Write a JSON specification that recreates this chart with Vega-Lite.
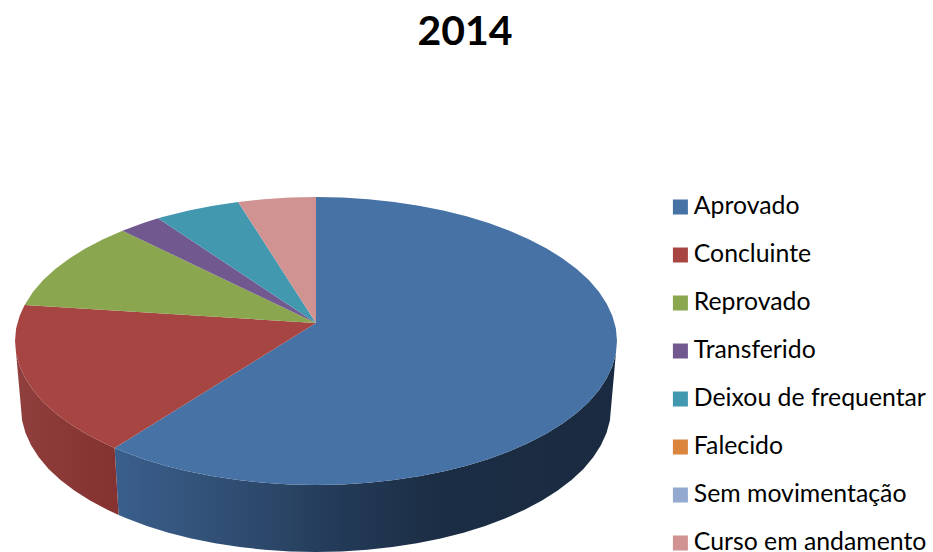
{"$schema":"https://vega.github.io/schema/vega-lite/v6.json","width":933,"height":552,"padding":0,"autosize":{"type":"none"},"background":"white","view":{"stroke":null},
"encoding":{"x":{"field":"x","type":"quantitative","scale":{"domain":[0,933],"nice":false,"zero":false},"axis":null},"y":{"field":"y","type":"quantitative","scale":{"domain":[0,552],"reverse":true,"nice":false,"zero":false},"axis":null},"order":{"field":"ordem","type":"quantitative"}},
"layer":[
{"data":{"values":[{"titulo":"2014","ordem":1,"x":465,"y":45}]},"mark":{"type":"text","font":"Lato","fontSize":41,"fontWeight":"bold","color":"#000000","align":"center","baseline":"alphabetic"},"encoding":{"text":{"field":"titulo","type":"nominal"}}},
{"data":{"values":[
{"ordem":1,"x":617,"y":341},{"ordem":2,"x":615.9,"y":353.6},{"ordem":3,"x":612.4,"y":366},{"ordem":4,"x":606.7,"y":378.3},{"ordem":5,"x":598.9,"y":390.2},{"ordem":6,"x":588.8,"y":401.9},{"ordem":7,"x":576.7,"y":413},{"ordem":8,"x":562.6,"y":423.6},{"ordem":9,"x":546.6,"y":433.6},{"ordem":10,"x":528.8,"y":442.8},{"ordem":11,"x":509.5,"y":451.3},{"ordem":12,"x":488.7,"y":459},{"ordem":13,"x":466.5,"y":465.7},{"ordem":14,"x":443.2,"y":471.5},{"ordem":15,"x":418.9,"y":476.3},{"ordem":16,"x":393.9,"y":480.1},{"ordem":17,"x":368.3,"y":482.8},{"ordem":18,"x":342.2,"y":484.5},{"ordem":19,"x":316,"y":485},{"ordem":20,"x":289.8,"y":484.5},{"ordem":21,"x":263.7,"y":482.8},{"ordem":22,"x":238.1,"y":480.1},{"ordem":23,"x":213.1,"y":476.3},{"ordem":24,"x":188.8,"y":471.5},{"ordem":25,"x":165.5,"y":465.7},{"ordem":26,"x":143.3,"y":459},{"ordem":27,"x":122.5,"y":451.3},{"ordem":28,"x":114.6,"y":448},
{"ordem":29,"x":118.6,"y":515},{"ordem":30,"x":126.4,"y":518.3},{"ordem":31,"x":146.8,"y":526},{"ordem":32,"x":168.5,"y":532.7},{"ordem":33,"x":191.3,"y":538.5},{"ordem":34,"x":215.1,"y":543.3},{"ordem":35,"x":239.7,"y":547.1},{"ordem":36,"x":264.8,"y":549.8},{"ordem":37,"x":290.3,"y":551.5},{"ordem":38,"x":316,"y":552},{"ordem":39,"x":341.7,"y":551.5},{"ordem":40,"x":367.2,"y":549.8},{"ordem":41,"x":392.3,"y":547.1},{"ordem":42,"x":416.9,"y":543.3},{"ordem":43,"x":440.7,"y":538.5},{"ordem":44,"x":463.5,"y":532.7},{"ordem":45,"x":485.2,"y":526},{"ordem":46,"x":505.6,"y":518.3},{"ordem":47,"x":524.6,"y":509.8},{"ordem":48,"x":542,"y":500.6},{"ordem":49,"x":557.7,"y":490.6},{"ordem":50,"x":571.5,"y":480},{"ordem":51,"x":583.4,"y":468.9},{"ordem":52,"x":593.2,"y":457.2},{"ordem":53,"x":600.9,"y":445.3},{"ordem":54,"x":606.5,"y":433},{"ordem":55,"x":609.9,"y":420.6},{"ordem":56,"x":611,"y":408},{"ordem":57,"x":617,"y":341}]},
"mark":{"type":"line","filled":true,"strokeWidth":0,"fill":{"gradient":"linear","x1":0,"y1":0,"x2":1,"y2":0,"stops":[{"offset":0,"color":"#3a5f8c"},{"offset":0.25,"color":"#2f4c70"},{"offset":0.45,"color":"#233a57"},{"offset":0.65,"color":"#1b2d44"},{"offset":1,"color":"#1a2b41"}]}}},
{"data":{"values":[
{"ordem":1,"x":114.6,"y":448},{"ordem":2,"x":103.2,"y":442.8},{"ordem":3,"x":85.4,"y":433.6},{"ordem":4,"x":69.4,"y":423.6},{"ordem":5,"x":55.3,"y":413},{"ordem":6,"x":43.2,"y":401.9},{"ordem":7,"x":33.1,"y":390.2},{"ordem":8,"x":25.3,"y":378.3},{"ordem":9,"x":19.6,"y":366},{"ordem":10,"x":16.1,"y":353.6},{"ordem":11,"x":15,"y":341},
{"ordem":12,"x":21,"y":408},{"ordem":13,"x":22.1,"y":420.6},{"ordem":14,"x":25.5,"y":433},{"ordem":15,"x":31.1,"y":445.3},{"ordem":16,"x":38.8,"y":457.2},{"ordem":17,"x":48.6,"y":468.9},{"ordem":18,"x":60.5,"y":480},{"ordem":19,"x":74.3,"y":490.6},{"ordem":20,"x":90,"y":500.6},{"ordem":21,"x":107.4,"y":509.8},{"ordem":22,"x":118.6,"y":515},{"ordem":23,"x":114.6,"y":448}]},
"mark":{"type":"line","filled":true,"strokeWidth":0,"fill":{"gradient":"linear","x1":0,"y1":0,"x2":1,"y2":0,"stops":[{"offset":0,"color":"#8f3f3d"},{"offset":1,"color":"#843230"}]}}},
{"data":{"values":[
{"categoria":"Aprovado","ordem":0,"x":316,"y":323},{"categoria":"Aprovado","ordem":1,"x":316,"y":197},{"categoria":"Aprovado","ordem":2,"x":342.2,"y":197.5},{"categoria":"Aprovado","ordem":3,"x":368.3,"y":199.2},{"categoria":"Aprovado","ordem":4,"x":393.9,"y":201.9},{"categoria":"Aprovado","ordem":5,"x":418.9,"y":205.7},{"categoria":"Aprovado","ordem":6,"x":443.2,"y":210.5},{"categoria":"Aprovado","ordem":7,"x":466.5,"y":216.3},{"categoria":"Aprovado","ordem":8,"x":488.7,"y":223},{"categoria":"Aprovado","ordem":9,"x":509.5,"y":230.7},{"categoria":"Aprovado","ordem":10,"x":528.8,"y":239.2},{"categoria":"Aprovado","ordem":11,"x":546.6,"y":248.4},{"categoria":"Aprovado","ordem":12,"x":562.6,"y":258.4},{"categoria":"Aprovado","ordem":13,"x":576.7,"y":269},{"categoria":"Aprovado","ordem":14,"x":588.8,"y":280.1},{"categoria":"Aprovado","ordem":15,"x":598.9,"y":291.8},{"categoria":"Aprovado","ordem":16,"x":606.7,"y":303.7},{"categoria":"Aprovado","ordem":17,"x":612.4,"y":316},{"categoria":"Aprovado","ordem":18,"x":615.9,"y":328.4},{"categoria":"Aprovado","ordem":19,"x":617,"y":341},{"categoria":"Aprovado","ordem":20,"x":615.9,"y":353.6},{"categoria":"Aprovado","ordem":21,"x":612.4,"y":366},{"categoria":"Aprovado","ordem":22,"x":606.7,"y":378.3},{"categoria":"Aprovado","ordem":23,"x":598.9,"y":390.2},{"categoria":"Aprovado","ordem":24,"x":588.8,"y":401.9},{"categoria":"Aprovado","ordem":25,"x":576.7,"y":413},{"categoria":"Aprovado","ordem":26,"x":562.6,"y":423.6},{"categoria":"Aprovado","ordem":27,"x":546.6,"y":433.6},{"categoria":"Aprovado","ordem":28,"x":528.8,"y":442.8},{"categoria":"Aprovado","ordem":29,"x":509.5,"y":451.3},{"categoria":"Aprovado","ordem":30,"x":488.7,"y":459},{"categoria":"Aprovado","ordem":31,"x":466.5,"y":465.7},{"categoria":"Aprovado","ordem":32,"x":443.2,"y":471.5},{"categoria":"Aprovado","ordem":33,"x":418.9,"y":476.3},{"categoria":"Aprovado","ordem":34,"x":393.9,"y":480.1},{"categoria":"Aprovado","ordem":35,"x":368.3,"y":482.8},{"categoria":"Aprovado","ordem":36,"x":342.2,"y":484.5},{"categoria":"Aprovado","ordem":37,"x":316,"y":485},{"categoria":"Aprovado","ordem":38,"x":289.8,"y":484.5},{"categoria":"Aprovado","ordem":39,"x":263.7,"y":482.8},{"categoria":"Aprovado","ordem":40,"x":238.1,"y":480.1},{"categoria":"Aprovado","ordem":41,"x":213.1,"y":476.3},{"categoria":"Aprovado","ordem":42,"x":188.8,"y":471.5},{"categoria":"Aprovado","ordem":43,"x":165.5,"y":465.7},{"categoria":"Aprovado","ordem":44,"x":143.3,"y":459},{"categoria":"Aprovado","ordem":45,"x":122.5,"y":451.3},{"categoria":"Aprovado","ordem":46,"x":114.6,"y":448},{"categoria":"Aprovado","ordem":47,"x":316,"y":323},
{"categoria":"Concluinte","ordem":0,"x":316,"y":323},{"categoria":"Concluinte","ordem":1,"x":114.6,"y":448},{"categoria":"Concluinte","ordem":2,"x":103.2,"y":442.8},{"categoria":"Concluinte","ordem":3,"x":85.4,"y":433.6},{"categoria":"Concluinte","ordem":4,"x":69.4,"y":423.6},{"categoria":"Concluinte","ordem":5,"x":55.3,"y":413},{"categoria":"Concluinte","ordem":6,"x":43.2,"y":401.9},{"categoria":"Concluinte","ordem":7,"x":33.1,"y":390.2},{"categoria":"Concluinte","ordem":8,"x":25.3,"y":378.3},{"categoria":"Concluinte","ordem":9,"x":19.6,"y":366},{"categoria":"Concluinte","ordem":10,"x":16.1,"y":353.6},{"categoria":"Concluinte","ordem":11,"x":15,"y":341},{"categoria":"Concluinte","ordem":12,"x":16.1,"y":328.4},{"categoria":"Concluinte","ordem":13,"x":19.6,"y":316},{"categoria":"Concluinte","ordem":14,"x":24.6,"y":305},{"categoria":"Concluinte","ordem":15,"x":316,"y":323},
{"categoria":"Reprovado","ordem":0,"x":316,"y":323},{"categoria":"Reprovado","ordem":1,"x":24.6,"y":305},{"categoria":"Reprovado","ordem":2,"x":33.1,"y":291.8},{"categoria":"Reprovado","ordem":3,"x":43.2,"y":280.1},{"categoria":"Reprovado","ordem":4,"x":55.3,"y":269},{"categoria":"Reprovado","ordem":5,"x":69.4,"y":258.4},{"categoria":"Reprovado","ordem":6,"x":85.4,"y":248.4},{"categoria":"Reprovado","ordem":7,"x":103.2,"y":239.2},{"categoria":"Reprovado","ordem":8,"x":122.5,"y":230.7},{"categoria":"Reprovado","ordem":9,"x":316,"y":323},
{"categoria":"Transferido","ordem":0,"x":316,"y":323},{"categoria":"Transferido","ordem":1,"x":122.5,"y":230.7},{"categoria":"Transferido","ordem":2,"x":143.3,"y":223},{"categoria":"Transferido","ordem":3,"x":158,"y":218.3},{"categoria":"Transferido","ordem":4,"x":316,"y":323},
{"categoria":"Deixou de frequentar","ordem":0,"x":316,"y":323},{"categoria":"Deixou de frequentar","ordem":1,"x":158,"y":218.3},{"categoria":"Deixou de frequentar","ordem":2,"x":165.5,"y":216.3},{"categoria":"Deixou de frequentar","ordem":3,"x":188.8,"y":210.5},{"categoria":"Deixou de frequentar","ordem":4,"x":213.1,"y":205.7},{"categoria":"Deixou de frequentar","ordem":5,"x":238.1,"y":201.9},{"categoria":"Deixou de frequentar","ordem":6,"x":316,"y":323},
{"categoria":"Curso em andamento","ordem":0,"x":316,"y":323},{"categoria":"Curso em andamento","ordem":1,"x":238.1,"y":201.9},{"categoria":"Curso em andamento","ordem":2,"x":263.7,"y":199.2},{"categoria":"Curso em andamento","ordem":3,"x":289.8,"y":197.5},{"categoria":"Curso em andamento","ordem":4,"x":316,"y":197},{"categoria":"Curso em andamento","ordem":5,"x":316,"y":323}]},
"mark":{"type":"line","filled":true,"strokeWidth":0},
"encoding":{"color":{"field":"categoria","type":"nominal","sort":null,"scale":{"domain":["Aprovado","Concluinte","Reprovado","Transferido","Deixou de frequentar","Falecido","Sem movimentação","Curso em andamento"],"range":["#4672a6","#a74543","#8aa64f","#71588f","#4298af","#db843d","#93a9cf","#d19392"]},
"legend":{"title":null,"orient":"none","legendX":668,"legendY":192,"symbolType":"square","symbolSize":225,"symbolStrokeWidth":0,"labelFont":"Lato","labelFontSize":24.8,"labelColor":"#000000","labelOffset":1,"rowPadding":18,"labelLimit":300,"clipHeight":30}}}}
]}
